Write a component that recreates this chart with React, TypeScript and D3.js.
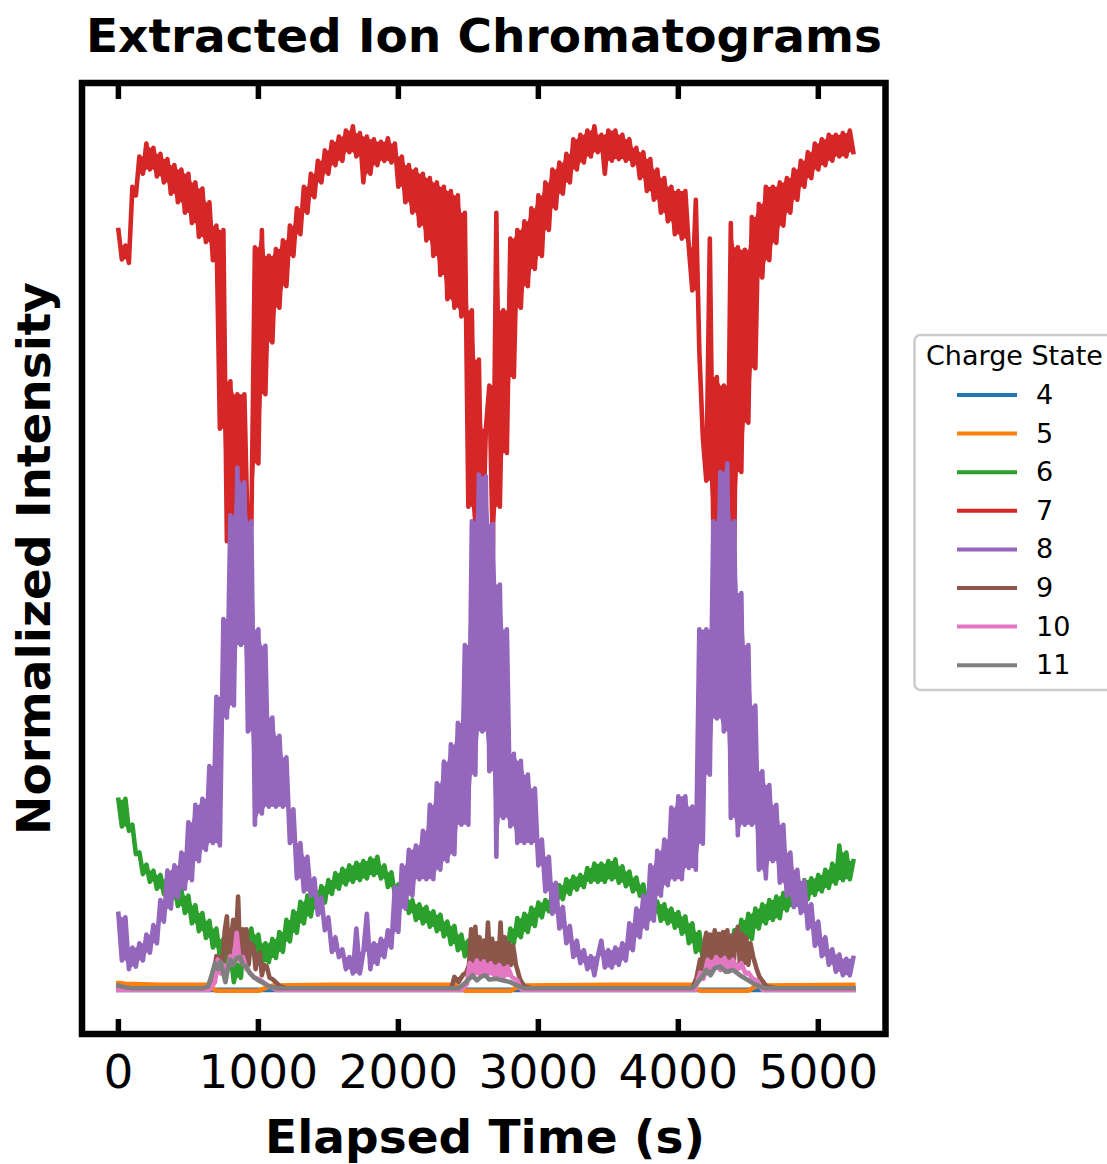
import React from 'react';
import * as d3 from 'd3';

// ---------- data (intensities in thousandths of the normalized scale) ----------
const xTickValues = [0, 1000, 2000, 3000, 4000, 5000];
const chargeStates = ['4', '5', '6', '7', '8', '9', '10', '11'];
const stateColors = ['#1f77b4', '#ff7f0e', '#2ca02c', '#d62728', '#9467bd', '#8c564b', '#e377c2', '#7f7f7f'];

// dense sampling grid (s) for the strongly varying charge states 6, 7, 8
const denseTimes = d3.range(0, 5251, 25);

const cs7 = [
  880, 846, 862, 842, 930, 920, 965, 945, 980, 950,
  975, 942, 968, 935, 962, 922, 955, 912, 950, 900,
  945, 888, 935, 872, 928, 866, 912, 845, 885, 650,
  880, 520, 705, 500, 690, 505, 690, 520, 540, 860,
  610, 880, 690, 850, 750, 858, 790, 868, 815, 885,
  850, 905, 875, 930, 900, 945, 918, 960, 935, 972,
  945, 982, 955, 988, 960, 995, 970, 1000, 965, 992,
  935, 988, 945, 985, 955, 982, 960, 986, 958, 980,
  930, 965, 912, 955, 900, 950, 885, 945, 868, 940,
  850, 935, 828, 930, 800, 925, 790, 920, 780, 900,
  560, 787, 520, 730, 500, 650, 700, 510, 900, 560,
  787, 622, 870, 710, 880, 790, 890, 815, 905, 835,
  920, 850, 935, 880, 950, 905, 958, 922, 968, 935,
  985, 950, 990, 958, 995, 965, 1000, 970, 990, 945,
  995, 960, 995, 962, 990, 960, 985, 955, 975, 940,
  970, 925, 962, 915, 950, 900, 940, 890, 930, 875,
  925, 870, 925, 860, 810, 915, 740, 640, 590, 870,
  530, 710, 520, 700, 530, 888, 520, 860, 600, 857,
  657, 895, 720, 910, 825, 930, 845, 930, 865, 935,
  885, 940, 900, 950, 915, 960, 930, 970, 940, 980,
  950, 985, 955, 990, 960, 990, 965, 992, 965, 995,
  970,
];

const cs8 = [
  89, 35, 85, 25, 50, 28, 55, 35, 65, 44,
  76, 55, 105, 80, 139, 95, 145, 108, 160, 118,
  195, 128, 215, 150, 222, 163, 260, 171, 340, 168,
  430, 316, 550, 330, 605, 400, 588, 300, 543, 192,
  418, 205, 399, 213, 316, 213, 295, 213, 270, 171,
  210, 130, 171, 115, 155, 110, 130, 88, 108, 70,
  85, 45, 62, 39, 48, 25, 39, 20, 72, 20,
  45, 89, 25, 55, 31, 60, 39, 70, 50, 120,
  68, 145, 95, 163, 110, 168, 129, 185, 129, 215,
  129, 240, 140, 265, 150, 285, 158, 310, 192, 400,
  192, 543, 250, 597, 300, 595, 254, 540, 155, 470,
  200, 418, 190, 274, 171, 266, 171, 250, 171, 234,
  145, 175, 115, 155, 89, 125, 72, 97, 55, 75,
  39, 58, 32, 47, 25, 40, 18, 40, 58, 27,
  47, 27, 50, 30, 55, 35, 78, 47, 95, 62,
  110, 72, 145, 81, 162, 110, 175, 122, 212, 129,
  225, 129, 225, 142, 213, 140, 418, 170, 418, 250,
  543, 315, 600, 300, 610, 200, 543, 180, 460, 192,
  400, 192, 330, 140, 254, 130, 238, 150, 215, 125,
  192, 110, 160, 97, 140, 90, 127, 72, 100, 52,
  80, 40, 62, 30, 48, 22, 42, 18, 37, 18,
  38,
];

const cs6 = [
  221, 190, 222, 185, 192, 158, 160, 135, 146, 126,
  139, 118, 134, 112, 129, 106, 122, 98, 117, 90,
  110, 78, 99, 69, 90, 61, 81, 50, 72, 39,
  60, 25, 45, 10, 30, 15, 70, 42, 72, 40,
  65, 33, 55, 33, 60, 38, 68, 45, 82, 57,
  92, 67, 103, 78, 110, 86, 116, 94, 121, 102,
  128, 112, 136, 118, 141, 123, 145, 126, 148, 128,
  150, 130, 153, 134, 155, 130, 145, 120, 137, 112,
  123, 100, 112, 90, 105, 82, 100, 78, 97, 74,
  92, 69, 88, 63, 80, 54, 75, 47, 65, 40,
  58, 34, 55, 28, 48, 30, 53, 35, 55, 36,
  61, 39, 72, 55, 84, 62, 89, 68, 96, 75,
  102, 85, 105, 92, 114, 97, 122, 106, 129, 112,
  132, 117, 134, 120, 142, 126, 147, 126, 147, 126,
  150, 129, 152, 125, 144, 121, 138, 115, 131, 110,
  123, 97, 110, 89, 103, 81, 100, 78, 95, 73,
  91, 66, 86, 55, 78, 45, 68, 36, 55, 28,
  47, 30, 52, 34, 55, 40, 70, 47, 82, 53,
  89, 60, 95, 72, 100, 78, 105, 82, 109, 84,
  113, 93, 117, 97, 121, 103, 128, 106, 130, 111,
  134, 115, 140, 119, 147, 124, 168, 128, 160, 129,
  150,
];

// sparse series: [time (s), value]
const cs4 = [[0, 1], [1300, 1], [2600, 1], [3900, 1], [5250, 1]];

const cs5 = [
  [0, 9], [50, 8], [300, 7], [650, 7], [680, 2], [700, 0], [1000, 0], [1050, 3], [1100, 6],
  [1500, 7], [2000, 7], [2400, 7], [2450, 2], [2480, 0], [2800, 0], [2850, 4], [2900, 6],
  [3500, 7], [4100, 7], [4130, 2], [4160, 0], [4500, 0], [4540, 4], [4580, 6], [5250, 7],
];

const cs9 = [
  [0, 3], [650, 3], [680, 18], [700, 40], [715, 25], [730, 39], [745, 30], [760, 70], [775, 86],
  [790, 35], [805, 60], [820, 82], [835, 40], [855, 109], [870, 35], [890, 71], [905, 35],
  [915, 71], [930, 30], [945, 55], [965, 51], [980, 25], [995, 40], [1010, 44], [1025, 18],
  [1040, 30], [1060, 28], [1080, 15], [1105, 13], [1155, 5], [1200, 3],
  [2380, 3], [2400, 16], [2430, 10], [2460, 18], [2485, 21], [2505, 30], [2520, 71], [2535, 30],
  [2550, 74], [2565, 28], [2580, 62], [2595, 30], [2610, 58], [2625, 28], [2640, 79], [2655, 30],
  [2670, 60], [2685, 28], [2700, 55], [2715, 30], [2730, 79], [2745, 30], [2760, 62], [2775, 28],
  [2790, 55], [2805, 30], [2820, 52], [2840, 30], [2870, 13], [2900, 5], [2950, 3],
  [4100, 3], [4130, 15], [4155, 36], [4170, 25], [4185, 55], [4200, 67], [4215, 30], [4230, 65],
  [4245, 30], [4260, 70], [4275, 30], [4290, 66], [4305, 30], [4320, 68], [4335, 32], [4350, 70],
  [4365, 30], [4380, 64], [4395, 30], [4410, 66], [4425, 74], [4440, 30], [4455, 66], [4470, 32],
  [4485, 62], [4500, 30], [4515, 55], [4535, 39], [4560, 25], [4580, 16], [4630, 5], [4700, 3],
  [5250, 3],
];

const cs10 = [
  [0, 1], [650, 1], [690, 10], [710, 36], [730, 20], [750, 30], [775, 22], [800, 40], [820, 30],
  [845, 67], [865, 35], [890, 39], [915, 25], [940, 21], [970, 15], [1010, 13], [1050, 8],
  [1080, 5], [1130, 1], [2450, 1], [2490, 8], [2510, 32], [2530, 18], [2560, 35], [2585, 18],
  [2610, 34], [2635, 18], [2660, 32], [2690, 16], [2720, 30], [2750, 15], [2780, 28], [2810, 16],
  [2850, 12], [2880, 1], [4120, 1], [4155, 21], [4180, 14], [4210, 36], [4240, 22], [4270, 39],
  [4300, 24], [4330, 38], [4360, 22], [4390, 36], [4420, 24], [4450, 32], [4480, 20], [4500, 21],
  [4530, 14], [4560, 12], [4600, 1], [5250, 1],
];

const cs11 = [
  [0, 6], [50, 4], [100, 3], [600, 3], [640, 5], [670, 20], [690, 32], [710, 25], [730, 34],
  [750, 20], [765, 10], [785, 28], [800, 36], [820, 30], [845, 38], [870, 39], [890, 30],
  [915, 28], [940, 20], [965, 16], [1000, 12], [1035, 9], [1080, 5], [1130, 3],
  [2430, 3], [2470, 8], [2500, 13], [2530, 18], [2560, 12], [2590, 16], [2620, 18], [2650, 13],
  [2700, 14], [2750, 12], [2800, 10], [2850, 6], [2900, 3],
  [4100, 3], [4140, 10], [4170, 16], [4200, 24], [4230, 18], [4260, 26], [4300, 28], [4340, 22],
  [4390, 24], [4440, 18], [4490, 13], [4540, 8], [4580, 5], [4620, 3], [5250, 3],
];

const densePairs = (vals: number[]) => vals.map((v, i) => [denseTimes[i], v]);

const seriesData = [cs4, cs5, densePairs(cs6), densePairs(cs7), densePairs(cs8), cs9, cs10, cs11];

// the region swept by a rapidly oscillating trace: at each sample, the band between
// the sample and the nearer of its neighbours' extremes
function sweptBand(pts: number[][]) {
  return pts.map((p, i) => {
    const prev = pts[i - 1] ? pts[i - 1][1] : p[1];
    const next = pts[i + 1] ? pts[i + 1][1] : p[1];
    const hi = Math.max(p[1], Math.min(prev, next));
    const lo = Math.min(p[1], Math.max(prev, next));
    return { t: p[0], lo, hi };
  });
}

// ---------- layout ----------
const W = 1107;
const H = 1164;
const left = 82;
const right = 885.5;
const top = 83;
const bottom = 1034;
const font = "'DejaVu Sans', 'Liberation Sans', sans-serif";

export default function App() {
  React.useEffect(() => {
    document.body.style.margin = '0';
  }, []);

  const x = d3.scaleLinear().domain([-260, 5480]).range([left, right]);
  const y = d3.scaleLinear().domain([-50, 1050]).range([bottom, top]);
  const line = d3
    .line<number[]>()
    .x((d) => x(d[0]))
    .y((d) => y(d[1]));
  const area = d3
    .area<{ t: number; lo: number; hi: number }>()
    .x((d) => x(d.t))
    .y0((d) => y(d.lo))
    .y1((d) => y(d.hi));

  const legendX = 914.5;
  const legendY = 335;
  const rowH = 38.6;

  return (
    <div style={{ position: 'absolute', left: 0, top: 0 }}>
      <svg width={W} height={H} xmlns="http://www.w3.org/2000/svg" style={{ display: 'block' }}>
        <rect x={0} y={0} width={W} height={H} fill="#ffffff" />
        <defs>
          <clipPath id="plotClip">
            <rect x={left} y={top} width={right - left} height={bottom - top} />
          </clipPath>
        </defs>

        {/* title */}
        <text x={484} y={52} textAnchor="middle" fontFamily={font} fontWeight="bold" fontSize={47}>
          Extracted Ion Chromatograms
        </text>

        {/* series */}
        <g clipPath="url(#plotClip)">
          {seriesData.map((pts, i) => (
            <g key={chargeStates[i]}>
              <path d={area(sweptBand(pts as number[][])) || ''} fill={stateColors[i]} stroke="none" />
              <path
                d={line(pts as number[][]) || ''}
                fill="none"
                stroke={stateColors[i]}
                strokeWidth={4.6}
                strokeLinejoin="round"
                strokeLinecap="square"
              />
            </g>
          ))}
        </g>

        {/* frame */}
        <rect
          x={left}
          y={top}
          width={right - left}
          height={bottom - top}
          fill="none"
          stroke="#000"
          strokeWidth={6.5}
        />

        {/* ticks (inward, top and bottom) */}
        {xTickValues.map((t) => (
          <g key={t}>
            <line x1={x(t)} x2={x(t)} y1={top} y2={top + 16} stroke="#000" strokeWidth={5.5} />
            <line x1={x(t)} x2={x(t)} y1={bottom} y2={bottom - 15} stroke="#000" strokeWidth={5.5} />
            <text x={x(t)} y={1088} textAnchor="middle" fontFamily={font} fontSize={47}>
              {t}
            </text>
          </g>
        ))}

        {/* axis labels */}
        <text x={485} y={1153} textAnchor="middle" fontFamily={font} fontWeight="bold" fontSize={47}>
          Elapsed Time (s)
        </text>
        <text
          transform={`translate(50, ${(top + bottom) / 2}) rotate(-90)`}
          textAnchor="middle"
          fontFamily={font}
          fontWeight="bold"
          fontSize={47}
        >
          Normalized Intensity
        </text>

        {/* legend */}
        <rect
          x={legendX}
          y={legendY}
          width={260}
          height={355}
          rx={6}
          fill="#ffffff"
          fillOpacity={0.8}
          stroke="#cccccc"
          strokeWidth={2.5}
        />
        <text x={926} y={365} fontFamily={font} fontSize={27}>
          Charge State
        </text>
        {chargeStates.map((s, i) => {
          const ly = 395 + i * rowH;
          return (
            <g key={s}>
              <line x1={957} x2={1017} y1={ly} y2={ly} stroke={stateColors[i]} strokeWidth={4} />
              <text x={1036} y={ly + 9} fontFamily={font} fontSize={27}>
                {s}
              </text>
            </g>
          );
        })}
      </svg>
    </div>
  );
}
